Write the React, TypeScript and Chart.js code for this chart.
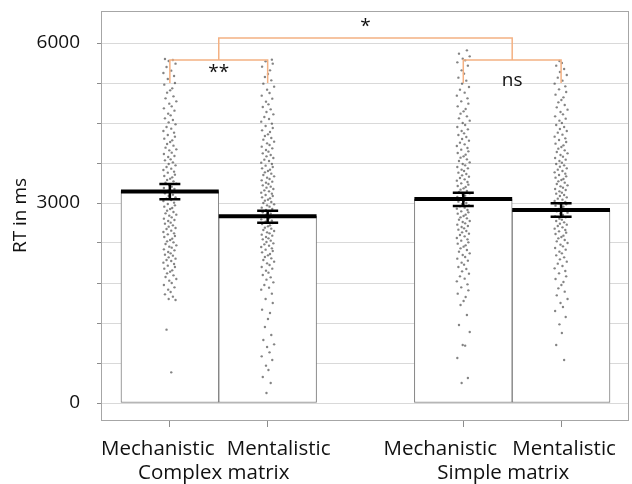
import React, { useEffect, useRef } from "react";
import { Chart, registerables } from "chart.js";

Chart.register(...registerables);

// ---- Data ----
const CATEGORY_POS = [0, 1, 3, 4];
const CATEGORY_LABELS = ["Mechanistic", "Mentalistic", "Mechanistic", "Mentalistic"];
const GROUP_POS = [0.5, 3.5];
const GROUP_LABELS = ["Complex matrix", "Simple matrix"];

const MEANS = [3172, 2800, 3060, 2895];
const ERR_HIGH = [3285, 2885, 3155, 2995];
const ERR_LOW = [3055, 2705, 2955, 2795];

const Y_TICKS = [0, 600, 1200, 1800, 2400, 3000, 3600, 4200, 4800, 5400];
const Y_TICK_LABELS = ["0", "", "", "", "", "3000", "", "", "", "6000"];

const COMPLEX_MECH = [
  5160, 5145, 5130, 5090, 5040, 4985, 4950, 4905, 4860, 4800, 4775, 4720, 4690, 4655, 4600, 4570,
  4525, 4490, 4450, 4420, 4385, 4340, 4315, 4270, 4245, 4210, 4180, 4140, 4115, 4080, 4055, 4020,
  3995, 3965, 3940, 3915, 3885, 3860, 3830, 3805, 3790, 3755, 3735, 3705, 3690, 3655, 3640, 3610,
  3585, 3565, 3540, 3515, 3495, 3470, 3455, 3425, 3405, 3385, 3365, 3345, 3325, 3305, 3290, 3265,
  3245, 3225, 3210, 3185, 3165, 3145, 3125, 3105, 3085, 3065, 3045, 3030, 3005, 2985, 2965, 2945,
  2925, 2910, 2885, 2865, 2845, 2825, 2810, 2785, 2765, 2745, 2730, 2705, 2690, 2665, 2645, 2625,
  2610, 2585, 2565, 2545, 2530, 2505, 2490, 2465, 2445, 2425, 2410, 2385, 2365, 2345, 2330, 2305,
  2290, 2265, 2245, 2225, 2210, 2185, 2165, 2145, 2130, 2105, 2085, 2060, 2040, 2015, 1990, 1970,
  1945, 1915, 1890, 1860, 1835, 1800, 1770, 1735, 1700, 1665, 1630, 1595, 1560, 1545, 1100, 460,
];
const COMPLEX_MENT = [
  5150, 5125, 5090, 5045, 4990, 4935, 4890, 4840, 4790, 4745, 4700, 4650, 4610, 4565, 4520, 4480,
  4440, 4405, 4365, 4330, 4290, 4260, 4220, 4190, 4155, 4125, 4090, 4065, 4030, 4005, 3975, 3950,
  3920, 3895, 3870, 3845, 3820, 3795, 3770, 3745, 3720, 3700, 3675, 3650, 3630, 3605, 3585, 3560,
  3540, 3520, 3500, 3480, 3460, 3440, 3420, 3400, 3380, 3360, 3340, 3320, 3305, 3285, 3265, 3245,
  3230, 3210, 3190, 3175, 3155, 3140, 3120, 3105, 3085, 3070, 3050, 3035, 3015, 3000, 2980, 2965,
  2945, 2930, 2910, 2895, 2875, 2860, 2840, 2825, 2805, 2790, 2770, 2755, 2735, 2720, 2700, 2685,
  2665, 2650, 2630, 2615, 2595, 2580, 2560, 2545, 2525, 2510, 2490, 2470, 2455, 2435, 2415, 2395,
  2380, 2360, 2340, 2320, 2300, 2280, 2260, 2235, 2215, 2190, 2170, 2145, 2120, 2095, 2070, 2040,
  2015, 1985, 1955, 1920, 1885, 1850, 1810, 1770, 1730, 1700, 1640, 1560, 1500, 1400, 1350, 1260,
  1140, 1020, 945, 880, 840, 760, 700, 645, 560, 495, 390, 300, 150,
];
const SIMPLE_MECH = [
  5290, 5240, 5200, 5165, 5140, 5110, 5060, 4990, 4940, 4880, 4835, 4790, 4740, 4700, 4655, 4610,
  4570, 4525, 4490, 4450, 4410, 4375, 4340, 4300, 4270, 4235, 4200, 4170, 4140, 4105, 4080, 4045,
  4020, 3990, 3960, 3935, 3905, 3880, 3855, 3825, 3800, 3775, 3750, 3725, 3700, 3680, 3655, 3630,
  3610, 3585, 3565, 3540, 3520, 3500, 3480, 3455, 3435, 3415, 3395, 3375, 3355, 3335, 3315, 3295,
  3275, 3255, 3240, 3220, 3200, 3180, 3165, 3145, 3125, 3110, 3090, 3070, 3055, 3035, 3020, 3000,
  2985, 2965, 2950, 2930, 2915, 2895, 2875, 2860, 2840, 2825, 2805, 2785, 2770, 2750, 2730, 2715,
  2695, 2675, 2655, 2640, 2620, 2600, 2580, 2560, 2540, 2520, 2500, 2475, 2455, 2435, 2410, 2390,
  2365, 2345, 2320, 2295, 2270, 2245, 2220, 2190, 2165, 2135, 2105, 2075, 2040, 2010, 1975, 1940,
  1900, 1865, 1825, 1780, 1735, 1690, 1640, 1590, 1530, 1470, 1320, 1170, 1065, 870, 860, 675,
  375, 300,
];
const SIMPLE_MENT = [
  5130, 5100, 5060, 5010, 4965, 4920, 4880, 4835, 4790, 4750, 4705, 4665, 4625, 4585, 4545, 4510,
  4470, 4435, 4400, 4365, 4330, 4300, 4265, 4235, 4200, 4170, 4140, 4110, 4080, 4055, 4025, 3995,
  3970, 3945, 3915, 3890, 3865, 3840, 3815, 3790, 3765, 3745, 3720, 3695, 3675, 3650, 3630, 3605,
  3585, 3565, 3545, 3520, 3500, 3480, 3460, 3440, 3420, 3400, 3380, 3360, 3345, 3325, 3305, 3285,
  3265, 3250, 3230, 3210, 3195, 3175, 3155, 3140, 3120, 3105, 3085, 3065, 3050, 3030, 3015, 2995,
  2980, 2960, 2945, 2925, 2910, 2890, 2875, 2855, 2840, 2820, 2800, 2785, 2765, 2750, 2730, 2710,
  2690, 2675, 2655, 2635, 2615, 2595, 2575, 2555, 2535, 2510, 2490, 2470, 2445, 2425, 2400, 2375,
  2350, 2325, 2300, 2270, 2245, 2215, 2185, 2155, 2120, 2090, 2055, 2020, 1980, 1945, 1900, 1860,
  1815, 1770, 1720, 1670, 1615, 1560, 1500, 1440, 1380, 1290, 1180, 1050, 870, 645,
];

// significance brackets: x range, leg bottoms and bar height in ms, label
const BRACKETS = [
  { from: 0, to: 1, legFrom: 4800, legTo: 4800, top: 5145, label: "**", labelY: 4950 },
  { from: 3, to: 4, legFrom: 4800, legTo: 4800, top: 5145, label: "ns", labelY: 4830 },
  { from: 0.5, to: 3.5, legFrom: 5145, legTo: 5145, top: 5475, label: "*", labelY: 5650 },
];

// small horizontal jitter offsets (x units) for the individual points
const JITTER = [
  -0.05, 0.031, -0.012, 0.058, -0.034, 0.014, -0.066, 0.043, -0.021, 0.052, -0.057, 0.024, 0.003,
  -0.028, 0.037, -0.044, 0.066, -0.006, 0.019, -0.061, 0.047, -0.017, 0.008,
];

const FONT = "'Open Sans', sans-serif";
const TEXT_COLOR = "#111";
const LABEL_SHIFT = [-12, 11, -23, 3];
const GROUP_SHIFT = [-5, -9];

export default function App() {
  const ref = useRef<HTMLCanvasElement>(null);

  useEffect(() => {
    const canvas = ref.current;
    if (!canvas) return;

    const pointSets = [COMPLEX_MECH, COMPLEX_MENT, SIMPLE_MECH, SIMPLE_MENT];
    const scatterData = pointSets.flatMap((vals, ci) =>
      vals.map((v, i) => ({ x: CATEGORY_POS[ci] + JITTER[(i + ci * 7) % JITTER.length], y: v }))
    );

    const bracketDatasets = BRACKETS.map((b) => ({
      type: "line" as const,
      data: [
        { x: b.from, y: b.legFrom },
        { x: b.from, y: b.top },
        { x: b.to, y: b.top },
        { x: b.to, y: b.legTo },
      ],
      borderColor: "#f4b183",
      borderWidth: 1.5,
      pointRadius: 0,
      fill: false,
      tension: 0,
      order: 1,
    }));

    const overlay = {
      id: "overlay",
      beforeDatasetsDraw(chart: any) {
        const { ctx, chartArea } = chart;
        ctx.save();
        ctx.strokeStyle = "#a6a6a6";
        ctx.lineWidth = 1;
        ctx.strokeRect(
          Math.round(chartArea.left) + 0.5,
          Math.round(chartArea.top) + 0.5,
          Math.round(chartArea.right - chartArea.left),
          Math.round(chartArea.bottom - chartArea.top)
        );
        ctx.restore();
      },
      afterDatasetsDraw(chart: any) {
        const { ctx } = chart;
        const xs = chart.scales.x;
        const ys = chart.scales.y;
        const meta = chart.getDatasetMeta(0);
        ctx.save();
        ctx.strokeStyle = "#000";
        meta.data.forEach((bar: any, i: number) => {
          const half = bar.width / 2;
          const ym = ys.getPixelForValue(MEANS[i]);
          ctx.lineWidth = 4;
          ctx.beginPath();
          ctx.moveTo(bar.x - half, ym);
          ctx.lineTo(bar.x + half, ym);
          ctx.stroke();
          const yh = ys.getPixelForValue(ERR_HIGH[i]);
          const yl = ys.getPixelForValue(ERR_LOW[i]);
          ctx.lineWidth = 2.5;
          ctx.beginPath();
          ctx.moveTo(bar.x, yh);
          ctx.lineTo(bar.x, yl);
          ctx.moveTo(bar.x - 10.5, yh);
          ctx.lineTo(bar.x + 10.5, yh);
          ctx.moveTo(bar.x - 10.5, yl);
          ctx.lineTo(bar.x + 10.5, yl);
          ctx.stroke();
        });
        ctx.fillStyle = TEXT_COLOR;
        ctx.font = `19px ${FONT}`;
        ctx.textAlign = "center";
        ctx.textBaseline = "middle";
        BRACKETS.forEach((b) => {
          ctx.fillText(b.label, xs.getPixelForValue((b.from + b.to) / 2), ys.getPixelForValue(b.labelY));
        });
        // category and group labels under the x axis
        ctx.font = `20.5px ${FONT}`;
        ctx.textBaseline = "alphabetic";
        CATEGORY_POS.forEach((p, i) => {
          ctx.fillText(CATEGORY_LABELS[i], xs.getPixelForValue(p) + LABEL_SHIFT[i], xs.top + 35);
        });
        GROUP_POS.forEach((p, i) => {
          ctx.fillText(GROUP_LABELS[i], xs.getPixelForValue(p) + GROUP_SHIFT[i], xs.top + 59);
        });
        ctx.restore();
      },
    };

    const chart = new Chart(canvas, {
      type: "bar",
      data: {
        datasets: [
          {
            type: "bar",
            data: CATEGORY_POS.map((x, i) => ({ x, y: MEANS[i] })),
            backgroundColor: "#ffffff",
            borderColor: "#7f7f7f",
            borderWidth: 1,
            borderSkipped: false,
            barPercentage: 1,
            categoryPercentage: 1,
            order: 3,
          } as any,
          {
            type: "scatter",
            data: scatterData,
            pointRadius: 1.2,
            pointBackgroundColor: "rgba(50,50,50,0.6)",
            pointBorderWidth: 0,
            showLine: false,
            order: 2,
          } as any,
          ...(bracketDatasets as any[]),
        ],
      },
      options: {
        responsive: false,
        animation: false,
        devicePixelRatio: 1,
        layout: { padding: { top: 11, right: 2, left: 0, bottom: 0 } },
        plugins: { legend: { display: false }, tooltip: { enabled: false } },
        scales: {
          x: {
            type: "linear",
            min: -0.704,
            max: 4.684,
            offset: false,
            afterBuildTicks: (axis: any) => {
              axis.ticks = CATEGORY_POS.map((v) => ({ value: v }));
            },
            afterFit: (s: any) => {
              s.height = 64;
              s.paddingLeft = 0;
              s.paddingRight = 0;
            },
            ticks: { display: false },
            grid: {
              offset: false,
              drawOnChartArea: false,
              drawTicks: true,
              tickLength: 7,
              color: "#8c8c8c",
              tickColor: "#8c8c8c",
            },
            border: { color: "#a6a6a6" },
          },
          y: {
            type: "linear",
            min: -255,
            max: 5880,
            afterBuildTicks: (axis: any) => {
              axis.ticks = Y_TICKS.map((v) => ({ value: v }));
            },
            afterFit: (s: any) => {
              s.width = 101;
              s.paddingTop = 0;
              s.paddingBottom = 0;
            },
            ticks: {
              padding: 17,
              color: TEXT_COLOR,
              font: { family: FONT, size: 19 },
              callback: (_v: any, i: number) => Y_TICK_LABELS[i],
            },
            grid: { color: "#d9d9d9", tickColor: "#8c8c8c", tickLength: 4, lineWidth: 1 },
            border: { color: "#a6a6a6" },
            title: {
              display: true,
              text: "RT in ms",
              color: TEXT_COLOR,
              font: { family: FONT, size: 19 },
              padding: { top: 9, bottom: 0 },
            },
          },
        },
      },
      plugins: [overlay],
    } as any);

    return () => chart.destroy();
  }, []);

  return (
    <div style={{ position: "fixed", left: 0, top: 0, width: 632, height: 484, background: "#fff" }}>
      <canvas ref={ref} width={632} height={484} style={{ display: "block" }} />
    </div>
  );
}
